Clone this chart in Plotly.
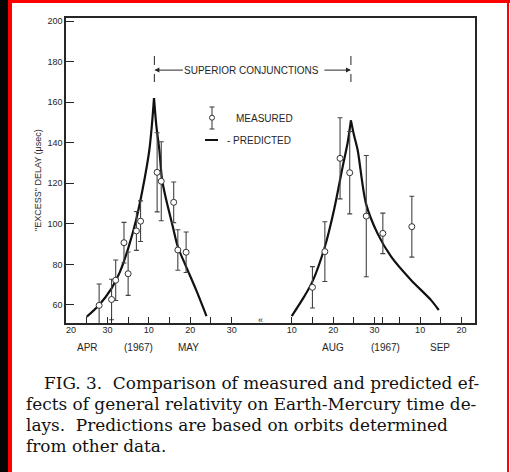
import plotly.graph_objects as go

# ---------------- data ----------------
meas_dates = ["1967-04-28", "1967-05-01", "1967-05-02", "1967-05-04", "1967-05-05",
              "1967-05-07", "1967-05-08", "1967-05-12", "1967-05-13", "1967-05-16",
              "1967-05-17", "1967-05-19",
              "1967-08-15", "1967-08-18", "1967-08-21 16:00", "1967-08-24", "1967-08-28",
              "1967-09-01", "1967-09-08"]
meas_values = [59.8, 62.7, 72.2, 90.7, 75.4, 96.5, 101.3, 125.4, 121.0, 110.6, 87.1, 86.0,
               68.7, 86.3, 132.3, 125.2, 103.8, 95.3, 98.6]
meas_errors = [10.5, 10.0, 10.0, 10.0, 10.7, 9.6, 10.0, 19.5, 19.5, 10.0, 10.0, 10.0,
               10.2, 14.7, 20.0, 20.3, 29.9, 10.0, 15.0]

pred1_dates = ["1967-04-25 00:00", "1967-04-28", "1967-05-01", "1967-05-03", "1967-05-05",
               "1967-05-07", "1967-05-09", "1967-05-10 03:00", "1967-05-10 18:00",
               "1967-05-11 06:00", "1967-05-11 20:00", "1967-05-12 13:00", "1967-05-13 05:00",
               "1967-05-14 05:00", "1967-05-15 19:00", "1967-05-17", "1967-05-19",
               "1967-05-21 10:00", "1967-05-23 22:00"]
pred1_values = [54.2, 60.0, 68.2, 76.2, 87.8, 102.5, 122.5, 136.4, 149.0,
                162.0, 148.0, 136.4, 121.6, 111.7, 98.6, 88.7, 78.9, 67.4, 54.5]

pred2_dates = ["1967-08-10", "1967-08-13", "1967-08-15", "1967-08-18", "1967-08-20 05:00",
               "1967-08-22 07:00", "1967-08-23 12:00", "1967-08-24 07:00", "1967-08-25 00:00",
               "1967-08-25 22:00", "1967-08-27 22:00", "1967-08-30 17:00", "1967-09-03",
               "1967-09-07 19:00", "1967-09-12 14:00", "1967-09-14 12:00"]
pred2_values = [54.5, 64.1, 71.5, 88.7, 106.8, 128.1, 140.0, 151.0, 144.0,
                136.4, 110.1, 95.3, 83.8, 72.3, 62.5, 57.5]

conj_dates = ["1967-05-11 08:00", "1967-08-24 07:00"]

tick_dates = ["1967-04-20", "1967-04-25", "1967-04-30", "1967-05-01", "1967-05-05",
              "1967-05-10", "1967-05-15", "1967-05-20", "1967-05-25", "1967-05-30",
              "1967-08-10", "1967-08-15", "1967-08-20", "1967-08-25", "1967-08-30",
              "1967-09-01", "1967-09-05", "1967-09-10", "1967-09-15", "1967-09-20"]
tick_text = ["\u2007\u200720", "", "30", "", "", "10", "", "20", "", "30",
             "10", "", "20", "", "30", "", "", "10", "", "20"]
y_ticks = [60, 80, 100, 120, 140, 160, 180, 200]

month_labels = ["APR", "(1967)", "MAY", "AUG", "(1967)", "SEP"]

caption = ["FIG. 3.  Comparison of measured and predicted ef-",
           "fects of general relativity on Earth-Mercury time de-",
           "lays.  Predictions are based on orbits determined",
           "from other data."]

# ---------------- helpers ----------------
W, H = 510, 472
def fx(x): return x / W
def fy(y): return 1 - y / H

INK = "#262626"
SANS = "Liberation Sans, Arial, sans-serif"

fig = go.Figure()

# predicted curves: each drawn as two smoothed branches meeting at the cusp
for dates, vals in [(pred1_dates, pred1_values), (pred2_dates, pred2_values)]:
    k = vals.index(max(vals))
    for sl in (slice(0, k + 1), slice(k, None)):
        fig.add_trace(go.Scatter(x=dates[sl], y=vals[sl], mode="lines",
                                 line=dict(color="#111111", width=2.2, shape="spline",
                                           smoothing=0.8),
                                 showlegend=False, hoverinfo="skip"))

fig.add_trace(go.Scatter(x=meas_dates, y=meas_values, mode="markers",
                         marker=dict(symbol="circle", size=6, color="white",
                                     line=dict(color="#333333", width=1)),
                         error_y=dict(type="data", array=meas_errors, visible=True,
                                      color="#444444", thickness=1.1, width=2.5),
                         showlegend=False))

fig.update_xaxes(type="date",
                 domain=[fx(66), fx(475)],
                 range=["1967-04-20 00:00", "1967-09-23 06:00"],
                 rangebreaks=[dict(bounds=["1967-06-06", "1967-08-02 12:00"])],
                 tickmode="array", tickvals=tick_dates, ticktext=tick_text,
                 ticks="inside", ticklen=6, tickwidth=1.2, tickcolor=INK,
                 ticklabelstandoff=-3,
                 showline=True, linecolor=INK, linewidth=1.5, mirror=True,
                 showgrid=False, zeroline=False, automargin=False,
                 tickfont=dict(family=SANS, size=9, color=INK))
fig.update_yaxes(domain=[fy(323), fy(18)],
                 range=[51.1, 201.5],
                 tickmode="array", tickvals=y_ticks,
                 ticks="inside", ticklen=8, tickwidth=1.2, tickcolor=INK,
                 showline=True, linecolor=INK, linewidth=1.5, mirror=True,
                 showgrid=False, zeroline=False, automargin=False,
                 tickfont=dict(family=SANS, size=9, color=INK))

shapes = []
annotations = []

def note(x, y, text, size=10, xanchor="center", family=SANS, color=INK, angle=0):
    annotations.append(dict(x=fx(x), y=fy(y), xref="paper", yref="paper", showarrow=False,
                            xanchor=xanchor, yanchor="middle", text=text, textangle=angle,
                            font=dict(family=family, size=size, color=color)))

# superior conjunction dashed markers + arrows
for i, d in enumerate(conj_dates):
    shapes.append(dict(type="line", xref="x", yref="paper", x0=d, x1=d,
                       y0=fy(56), y1=fy(82), line=dict(color=INK, width=1, dash="dash")))
    annotations.append(dict(x=d, y=175.8, xref="x", yref="y", ax=30 if i == 0 else -28,
                            ay=0, showarrow=True, arrowhead=2, arrowsize=1, arrowwidth=1,
                            arrowcolor=INK, text=""))
note(251, 70, "SUPERIOR CONJUNCTIONS", size=10)

# legend (hand drawn)
shapes += [
    dict(type="line", xref="paper", yref="paper", x0=fx(212), x1=fx(212), y0=fy(107), y1=fy(129),
         line=dict(color="#444444", width=1.1)),
    dict(type="line", xref="paper", yref="paper", x0=fx(209.5), x1=fx(214.5), y0=fy(107), y1=fy(107),
         line=dict(color="#444444", width=1.1)),
    dict(type="line", xref="paper", yref="paper", x0=fx(209.5), x1=fx(214.5), y0=fy(129), y1=fy(129),
         line=dict(color="#444444", width=1.1)),
    dict(type="circle", xref="paper", yref="paper", x0=fx(209.5), x1=fx(214.5), y0=fy(120.2), y1=fy(115.2),
         line=dict(color="#333333", width=1), fillcolor="white"),
    dict(type="line", xref="paper", yref="paper", x0=fx(205), x1=fx(218), y0=fy(140), y1=fy(140),
         line=dict(color="#111111", width=2)),
]
note(234, 118, "MEASURED", xanchor="left")
note(225, 140, "- PREDICTED", xanchor="left")

# axis break mark
note(260, 320, "«", size=9)

# y-axis title
note(38, 180, "\"EXCESS\" DELAY (\u03bcsec)", size=9, angle=-90)

# month labels
for txt, x in zip(month_labels, [87, 138, 188, 333, 385, 440]):
    note(x, 347, txt, size=10)

# caption
for i, (line, y) in enumerate(zip(caption, [383, 404, 425, 446])):
    note(42 if i == 0 else 24, y, line, size=16.9, xanchor="left",
         family="DejaVu Serif, serif", color="#111111")

# outer frame
shapes += [
    dict(type="rect", xref="paper", yref="paper", x0=0, x1=fx(8), y0=0, y1=1,
         fillcolor="#050505", line=dict(width=0)),
    dict(type="rect", xref="paper", yref="paper", x0=fx(8), x1=fx(12), y0=0, y1=1,
         fillcolor="#ff0000", line=dict(width=0)),
    dict(type="rect", xref="paper", yref="paper", x0=fx(8), x1=1, y0=fy(3), y1=1,
         fillcolor="#ff0000", line=dict(width=0)),
    dict(type="rect", xref="paper", yref="paper", x0=fx(507), x1=fx(509), y0=0, y1=1,
         fillcolor="#ff0000", line=dict(width=0)),
]

fig.update_layout(width=W, height=H, autosize=False,
                  margin=dict(l=0, r=0, t=0, b=0, pad=0),
                  paper_bgcolor="white", plot_bgcolor="white",
                  shapes=shapes, annotations=annotations, showlegend=False)

fig.write_html("out.html",
               post_script="document.body.style.margin='0px';"
                           "document.documentElement.style.overflow='hidden';"
                           "document.body.style.overflow='hidden';")
